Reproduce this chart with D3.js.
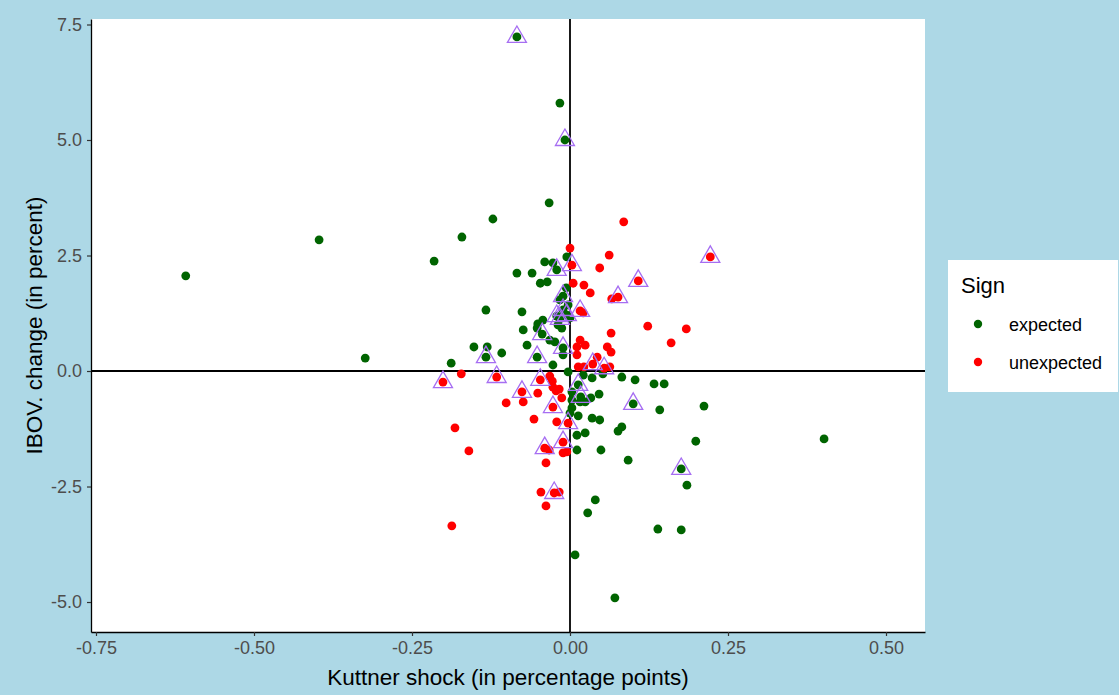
<!DOCTYPE html>
<html>
<head>
<meta charset="utf-8">
<script src="https://cdn.jsdelivr.net/npm/d3@7"></script>
<style>
  html, body { margin: 0; padding: 0; background: #ADD8E6; }
  svg { display: block; font-family: "Liberation Sans", Arial, sans-serif; }
</style>
</head>
<body>
<svg id="chart" width="1119" height="695"></svg>
<script>
// ---- Data ----
const xTicks = [-0.75, -0.50, -0.25, 0.00, 0.25, 0.50];
const yTicks = [-5.0, -2.5, 0.0, 2.5, 5.0, 7.5];
const signLevels = ["expected", "unexpected"];

// expected sign: Kuttner shock, IBOV change, highlighted flag
const expectedX = [-0.608,-0.397,-0.324,-0.215,-0.171,-0.122,-0.033,-0.016,-0.008,-0.084,
  -0.005,-0.040,-0.027,-0.021,-0.084,-0.060,-0.047,-0.036,-0.006,-0.011,
  -0.016,-0.003,-0.133,-0.076,-0.011,-0.021,-0.016,-0.005,0.000,-0.043,
  -0.051,-0.052,-0.019,-0.013,-0.074,-0.044,-0.068,-0.032,-0.024,-0.011,
  -0.152,-0.131,-0.133,-0.108,-0.188,-0.052,-0.027,-0.011,-0.003,0.021,
  0.035,0.052,0.082,0.103,0.133,0.149,0.013,0.003,0.017,0.033,
  0.046,0.016,0.024,0.003,0.000,0.100,0.142,0.212,0.013,0.035,
  0.047,0.011,0.024,0.076,0.082,0.011,0.049,0.092,0.199,0.402,
  0.176,0.185,0.040,0.028,0.139,0.176,0.008,0.071,0.003];
const expectedY = [2.06,2.84,0.28,2.38,2.90,3.29,3.64,5.80,5.00,7.23,
  2.47,2.36,2.34,2.19,2.12,2.12,1.90,1.93,1.80,1.62,
  1.54,1.43,1.32,1.28,1.32,1.19,1.13,1.21,1.15,1.10,
  1.02,0.93,1.00,0.93,0.89,0.80,0.56,0.67,0.63,0.50,
  0.52,0.52,0.30,0.39,0.17,0.30,0.13,0.35,-0.02,-0.09,
  -0.15,-0.06,-0.13,-0.19,-0.28,-0.28,-0.30,-0.45,-0.56,-0.58,
  -0.50,-0.67,-0.67,-0.80,-0.91,-0.71,-0.84,-0.76,-0.97,-1.02,
  -1.06,-1.39,-1.34,-1.30,-1.21,-1.71,-1.71,-1.93,-1.52,-1.47,
  -2.12,-2.47,-2.79,-3.07,-3.42,-3.44,-3.98,-4.91,-0.63];
const expectedMark = [0,0,0,0,0,0,0,0,1,1,
  0,0,0,1,0,0,0,0,0,1,
  0,0,0,0,1,1,1,1,0,0,
  0,0,0,0,0,1,0,0,0,1,
  0,0,1,0,0,1,0,0,0,0,
  0,0,0,0,0,0,1,0,1,0,
  0,0,0,0,0,1,0,0,0,0,
  0,0,0,0,0,0,0,0,0,0,
  1,0,0,0,0,0,0,0,0];

// unexpected sign
const unexpectedX = [0.085,0.000,0.062,0.047,0.222,0.108,0.003,0.005,0.022,0.032,
  0.076,0.066,0.016,0.021,0.123,0.184,0.160,0.065,0.016,0.011,
  0.024,0.059,0.065,0.011,0.043,0.036,0.054,0.063,0.013,0.022,
  -0.172,-0.201,-0.116,-0.047,-0.076,-0.074,-0.101,-0.051,-0.032,-0.028,
  -0.027,-0.022,-0.017,-0.013,-0.027,-0.057,-0.021,-0.003,-0.011,-0.040,
  -0.033,-0.011,-0.005,-0.038,-0.046,-0.025,-0.017,-0.038,-0.182,-0.160,
  -0.187];
const unexpectedY = [3.23,2.66,2.51,2.23,2.47,1.95,2.29,1.90,1.86,1.69,
  1.60,1.56,1.30,1.26,0.97,0.91,0.61,0.82,0.67,0.52,
  0.56,0.52,0.41,0.35,0.30,0.15,0.06,0.09,0.09,0.09,
  -0.06,-0.24,-0.13,-0.19,-0.45,-0.67,-0.69,-0.48,-0.11,-0.22,
  -0.35,-0.43,-0.39,-0.58,-0.78,-1.04,-1.10,-1.13,-1.54,-1.67,
  -1.71,-1.77,-1.75,-1.99,-2.62,-2.64,-2.62,-2.92,-1.23,-1.73,
  -3.35];
const unexpectedMark = [0,0,0,0,1,1,1,0,0,0,
  1,0,1,0,0,0,0,0,0,0,
  0,0,0,0,0,1,1,0,0,0,
  0,1,1,1,1,0,0,0,0,0,
  0,0,0,0,1,0,0,1,1,1,
  0,0,0,0,0,1,0,0,0,0,
  0];

const signColors = {expected: "#006400", unexpected: "#FF0000"};
const markColor = "#A66EF2";

// ---- Build records ----
const points = [];
expectedX.forEach((v, i) => points.push({x: v, y: expectedY[i], sign: "expected", mark: expectedMark[i]}));
unexpectedX.forEach((v, i) => points.push({x: v, y: unexpectedY[i], sign: "unexpected", mark: unexpectedMark[i]}));

// ---- Layout ----
const svg = d3.select("#chart");
const W = 1119, H = 695;
const panel = {left: 91, right: 925, top: 19, bottom: 632};

svg.append("rect").attr("width", W).attr("height", H).attr("fill", "#ADD8E6");

const x = d3.scaleLinear().domain([-0.7579, 0.5617]).range([panel.left, panel.right]);
const y = d3.scaleLinear().domain([-5.649, 7.619]).range([panel.bottom, panel.top]);

svg.append("rect")
  .attr("x", panel.left).attr("y", panel.top)
  .attr("width", panel.right - panel.left).attr("height", panel.bottom - panel.top)
  .attr("fill", "#ffffff");

// reference lines at zero
svg.append("line")
  .attr("x1", x(0)).attr("x2", x(0)).attr("y1", panel.top).attr("y2", panel.bottom)
  .attr("stroke", "#000").attr("stroke-width", 1.8);
svg.append("line")
  .attr("x1", panel.left).attr("x2", panel.right).attr("y1", y(0)).attr("y2", y(0))
  .attr("stroke", "#000").attr("stroke-width", 1.8);

// points
svg.append("g").selectAll("circle").data(points).join("circle")
  .attr("cx", d => x(d.x)).attr("cy", d => y(d.y)).attr("r", 4.4)
  .attr("fill", d => signColors[d.sign]);

// highlighted triangles
const tri = d3.symbol().type(d3.symbolTriangle).size(157);
svg.append("g").selectAll("path").data(points.filter(d => d.mark === 1)).join("path")
  .attr("d", tri)
  .attr("transform", d => `translate(${x(d.x)},${y(d.y)})`)
  .attr("fill", "none").attr("stroke", markColor).attr("stroke-width", 1.3);

// axes
const xAxis = svg.append("g").attr("transform", `translate(0,${panel.bottom})`)
  .call(d3.axisBottom(x).tickValues(xTicks).tickFormat(d => d.toFixed(2)).tickSizeInner(4).tickSizeOuter(0).tickPadding(5));
const yAxis = svg.append("g").attr("transform", `translate(${panel.left},0)`)
  .call(d3.axisLeft(y).tickValues(yTicks).tickFormat(d => d.toFixed(1)).tickSizeInner(4).tickSizeOuter(0).tickPadding(5));
[xAxis, yAxis].forEach(g => {
  g.select(".domain").attr("stroke", "#000").attr("stroke-width", 1.3);
  g.selectAll(".tick line").attr("stroke", "#333").attr("stroke-width", 1.2);
  g.selectAll(".tick text").attr("fill", "#4D4D4D").style("font-size", "18px")
    .style("font-family", "'Liberation Sans', Arial, sans-serif");
});

// axis titles
svg.append("text")
  .attr("x", (panel.left + panel.right) / 2).attr("y", 685)
  .attr("text-anchor", "middle").style("font-size", "22.5px").attr("fill", "#000")
  .text("Kuttner shock (in percentage points)");
svg.append("text")
  .attr("transform", `translate(42,${(panel.top + panel.bottom) / 2}) rotate(-90)`)
  .attr("text-anchor", "middle").style("font-size", "22.5px").attr("fill", "#000")
  .text("IBOV. change (in percent)");

// legend
const lg = svg.append("g");
lg.append("rect").attr("x", 948).attr("y", 260).attr("width", 170).attr("height", 132).attr("fill", "#fff");
lg.append("text").attr("x", 961).attr("y", 293).style("font-size", "22px").attr("fill", "#000").text("Sign");
signLevels.forEach((s, i) => {
  const cy = 324 + i * 38;
  lg.append("circle").attr("cx", 978).attr("cy", cy).attr("r", 4.2).attr("fill", signColors[s]);
  lg.append("text").attr("x", 1009).attr("y", cy + 7).style("font-size", "18px").attr("fill", "#000").text(s);
});
</script>
</body>
</html>
